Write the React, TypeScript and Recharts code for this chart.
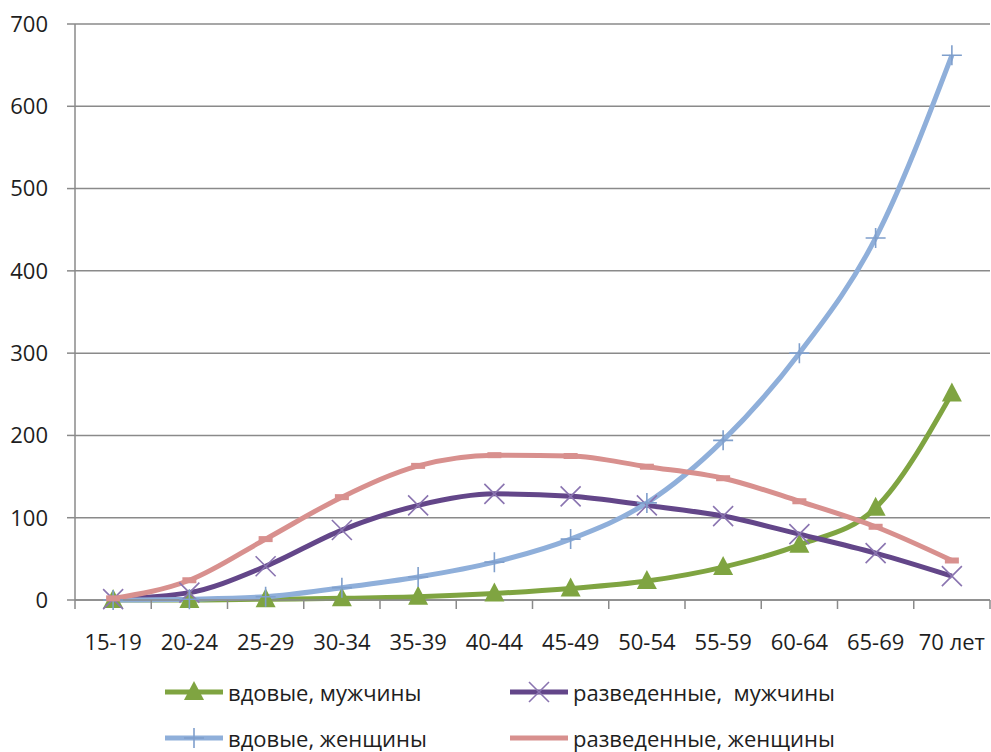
import React from "react";
import {
  LineChart,
  Line,
  XAxis,
  YAxis,
  CartesianGrid,
  Legend,
} from "recharts";

const categories = ["15-19", "20-24", "25-29", "30-34", "35-39", "40-44", "45-49", "50-54", "55-59", "60-64", "65-69", "70 лет"];
const widowedMen = [0, 0, 1, 2, 4, 8, 14, 23, 40, 67, 112, 251];
const divorcedMen = [1, 9, 41, 85, 115, 129, 126, 115, 102, 80, 57, 29];
const widowedWomen = [0, 1, 4, 15, 28, 46, 74, 118, 194, 300, 440, 662];
const divorcedWomen = [2, 24, 74, 125, 163, 176, 175, 162, 148, 120, 89, 48];
const yTicks = [0, 100, 200, 300, 400, 500, 600, 700];

const data = categories.map((age, i) => ({
  age,
  wm: widowedMen[i],
  dm: divorcedMen[i],
  ww: widowedWomen[i],
  dw: divorcedWomen[i],
}));

const FONT = "'Open Sans', sans-serif";
const TEXT = "#1e1e1e";
const AXIS = "#8a8a8a";
const GREEN = "#7fa441";
const PURPLE = "#634689";
const PURPLE_MARK = "#8a74b0";
const BLUE = "#8fafda";
const BLUE_MARK = "#7f9fcc";
const PINK = "#d8908e";

// half of one category band (plot is 915px wide, 12 categories)
const HALF = 915 / 12 / 2;

const Triangle = ({ cx, cy }: any) => (
  <path d={`M${cx},${cy - 11} L${cx + 10},${cy + 8} L${cx - 10},${cy + 8} Z`} fill={GREEN} />
);
const Cross = ({ cx, cy }: any) => (
  <path d={`M${cx - 10},${cy - 10} L${cx + 10},${cy + 10} M${cx + 10},${cy - 10} L${cx - 10},${cy + 10}`} stroke={PURPLE_MARK} strokeWidth={1.6} />
);
const Plus = ({ cx, cy }: any) => (
  <path d={`M${cx - 10},${cy} L${cx + 10},${cy} M${cx},${cy - 10} L${cx},${cy + 10}`} stroke={BLUE_MARK} strokeWidth={1.6} />
);
const Dash = ({ cx, cy }: any) => (
  <rect x={cx - 7} y={cy - 3} width={14} height={6} fill={PINK} />
);

const XTick = ({ x, y, payload, index }: any) => (
  <g>
    <line x1={x - HALF} x2={x - HALF} y1={y} y2={y + 9} stroke={AXIS} strokeWidth={1.5} />
    {index === categories.length - 1 && (
      <line x1={x + HALF} x2={x + HALF} y1={y} y2={y + 9} stroke={AXIS} strokeWidth={1.5} />
    )}
    <text x={x} y={y + 50} textAnchor="middle" fill={TEXT} fontSize={22} fontFamily={FONT}>
      {payload.value}
    </text>
  </g>
);

const legendItems = [
  { name: "вдовые, мужчины", color: GREEN, Mark: Triangle, left: 165, top: 40 },
  { name: "разведенные,  мужчины", color: PURPLE, Mark: Cross, left: 510, top: 40 },
  { name: "вдовые, женщины", color: BLUE, Mark: Plus, left: 165, top: 86 },
  { name: "разведенные, женщины", color: PINK, Mark: null, left: 510, top: 86 },
];

const renderLegend = () => (
  <div style={{ position: "relative", width: 991, height: 100 }}>
    {legendItems.map((it) => (
      <div key={it.name} style={{ position: "absolute", left: it.left, top: it.top - 13, height: 26, display: "flex", alignItems: "center" }}>
        <svg width={58} height={26}>
          <line x1={0} x2={58} y1={13} y2={13} stroke={it.color} strokeWidth={5} />
          {it.Mark && <it.Mark cx={29} cy={13} />}
        </svg>
        <span style={{ marginLeft: 5, fontFamily: FONT, fontSize: 22, lineHeight: "26px", color: TEXT, whiteSpace: "pre" }}>{it.name}</span>
      </div>
    ))}
  </div>
);

export default function App() {
  return (
    <div style={{ position: "absolute", left: 0, top: 0, background: "#fff" }}>
      <LineChart width={991} height={752} data={data} margin={{ top: 24, right: 1, bottom: 0, left: 0 }}>
        <CartesianGrid vertical={false} stroke={AXIS} strokeWidth={1.5} strokeOpacity={1} />
        <XAxis
          dataKey="age"
          height={52}
          interval={0}
          padding={{ left: HALF, right: HALF }}
          tickSize={0}
          tickMargin={0}
          tickLine={false}
          axisLine={{ stroke: AXIS, strokeWidth: 1.5 }}
          tick={<XTick />}
        />
        <YAxis
          width={75}
          domain={[0, 700]}
          ticks={yTicks}
          tickSize={8}
          tickMargin={19}
          axisLine={{ stroke: AXIS, strokeWidth: 1.5 }}
          tickLine={{ stroke: AXIS, strokeWidth: 1.5 }}
          tick={{ fill: TEXT, fontSize: 22, fontFamily: FONT }}
        />
        <Legend verticalAlign="bottom" content={renderLegend} wrapperStyle={{ left: 0, width: 991, bottom: 0 }} />
        <Line type="monotone" dataKey="wm" name="вдовые, мужчины" stroke={GREEN} strokeWidth={5} isAnimationActive={false}
          dot={(p: any) => <Triangle key={p.index} cx={p.cx} cy={p.cy} />} />
        <Line type="monotone" dataKey="dm" name="разведенные,  мужчины" stroke={PURPLE} strokeWidth={5} isAnimationActive={false}
          dot={(p: any) => <Cross key={p.index} cx={p.cx} cy={p.cy} />} />
        <Line type="monotone" dataKey="ww" name="вдовые, женщины" stroke={BLUE} strokeWidth={5} isAnimationActive={false}
          dot={(p: any) => <Plus key={p.index} cx={p.cx} cy={p.cy} />} />
        <Line type="monotone" dataKey="dw" name="разведенные, женщины" stroke={PINK} strokeWidth={5} isAnimationActive={false}
          dot={(p: any) => <Dash key={p.index} cx={p.cx} cy={p.cy} />} />
      </LineChart>
    </div>
  );
}
